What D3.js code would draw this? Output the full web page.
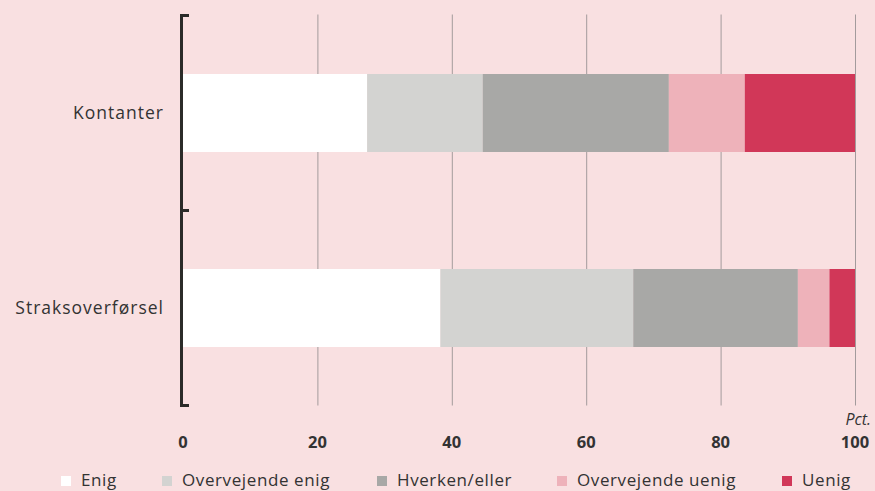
<!DOCTYPE html>
<html>
<head>
<meta charset="utf-8">
<script src="https://cdn.jsdelivr.net/npm/d3@7"></script>
<style>
  html, body { margin: 0; padding: 0; background: #f9e0e1; }
  svg { display: block; }
  text { font-family: "Open Sans", "Noto Sans", sans-serif; fill: #333; }
</style>
</head>
<body>
<svg id="chart" width="875" height="491"></svg>
<script>
// Answer shares per payment method, in percent
const categories = ["Kontanter", "Straksoverførsel"];
const seriesNames = ["Enig", "Overvejende enig", "Hverken/eller", "Overvejende uenig", "Uenig"];
const enig = [27.4, 38.3];
const overvejendeEnig = [17.2, 28.7];
const hverkenEller = [27.7, 24.5];
const overvejendeUenig = [11.3, 4.7];
const uenig = [16.4, 3.8];
const xTicks = [0, 20, 40, 60, 80, 100];
const unitLabel = "Pct.";

const colors = ["#ffffff", "#d3d3d1", "#a8a8a6", "#eeb2ba", "#d13758"];

const rows = categories.map((c, i) => ({
  category: c,
  "Enig": enig[i],
  "Overvejende enig": overvejendeEnig[i],
  "Hverken/eller": hverkenEller[i],
  "Overvejende uenig": overvejendeUenig[i],
  "Uenig": uenig[i]
}));

const svg = d3.select("#chart");
const plotTop = 15.5, plotBottom = 405.5;

const x = d3.scaleLinear().domain([0, 100]).range([183, 855]);
const y = d3.scaleBand().domain(categories).range([plotTop, plotBottom]).paddingInner(0).paddingOuter(0);
const barH = y.bandwidth() * 0.4;

// vertical gridlines
svg.append("g")
  .selectAll("line")
  .data(xTicks.filter(d => d > 0))
  .join("line")
  .attr("x1", d => x(d) + 0.5).attr("x2", d => x(d) + 0.5)
  .attr("y1", plotTop - 1).attr("y2", plotBottom)
  .attr("stroke", "#a39b9c").attr("stroke-width", 1);

// stacked bars
const stack = d3.stack().keys(seriesNames);
const layers = stack(rows);
svg.append("g")
  .selectAll("g")
  .data(layers)
  .join("g")
  .attr("fill", (d, i) => colors[i])
  .selectAll("rect")
  .data(d => d)
  .join("rect")
  .attr("x", d => x(d[0]))
  .attr("width", d => x(d[1]) - x(d[0]))
  .attr("y", d => y(d.data.category) + (y.bandwidth() - barH) / 2)
  .attr("height", barH);

// left category axis with band-boundary ticks
const bounds = [plotTop, ...categories.map(c => y(c) + y.bandwidth())];
const axisG = svg.append("g");
axisG.append("line")
  .attr("x1", 181.5).attr("x2", 181.5)
  .attr("y1", plotTop - 1.5).attr("y2", plotBottom + 1.5)
  .attr("stroke", "#2b2b29").attr("stroke-width", 3);
axisG.selectAll("line.tick")
  .data(bounds)
  .join("line")
  .attr("class", "tick")
  .attr("x1", 180).attr("x2", 189)
  .attr("y1", d => d).attr("y2", d => d)
  .attr("stroke", "#2b2b29").attr("stroke-width", 3);

axisG.selectAll("text.cat")
  .data(categories)
  .join("text")
  .attr("class", "cat")
  .attr("x", 164)
  .attr("y", d => y(d) + y.bandwidth() / 2)
  .attr("dy", "0.35em")
  .attr("text-anchor", "end")
  .style("font-size", "17.5px")
  .style("letter-spacing", "1px")
  .text(d => d);

// bottom value labels
svg.append("g")
  .selectAll("text")
  .data(xTicks)
  .join("text")
  .attr("x", d => x(d))
  .attr("y", 448)
  .attr("text-anchor", "middle")
  .style("font-size", "16.5px")
  .style("font-weight", "bold")
  .text(d => d);

svg.append("text")
  .attr("x", 871).attr("y", 425)
  .attr("text-anchor", "end")
  .style("font-size", "16px")
  .style("font-style", "italic")
  .text(unitLabel);

// legend
const legendX = [61, 162, 377, 557, 782];
const lg = svg.append("g")
  .selectAll("g")
  .data(seriesNames)
  .join("g")
  .attr("transform", (d, i) => `translate(${legendX[i]},0)`);
lg.append("rect")
  .attr("x", 0).attr("y", 476).attr("width", 10).attr("height", 10)
  .attr("fill", (d, i) => colors[i]);
lg.append("text")
  .attr("x", 20).attr("y", 486)
  .style("font-size", "17px")
  .style("letter-spacing", "0.6px")
  .text(d => d);
</script>
</body>
</html>
